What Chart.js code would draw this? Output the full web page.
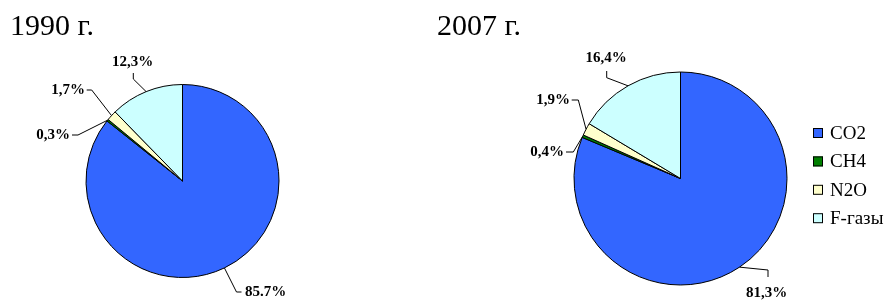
<!DOCTYPE html>
<html>
<head>
<meta charset="utf-8">
<script src="https://cdn.jsdelivr.net/npm/chart.js@4.4.1/dist/chart.umd.min.js"></script>
<style>
html,body{margin:0;padding:0;background:#fff;}
#wrap{position:relative;width:885px;height:302px;overflow:hidden;}
canvas{position:absolute;left:0;top:0;}
</style>
</head>
<body>
<div id="wrap">
<canvas id="c1" width="885" height="302"></canvas>
<canvas id="c2" width="885" height="302"></canvas>
</div>
<script>
const categories = ['CO2', 'CH4', 'N2O', 'F-газы'];
const values1990 = [85.7, 0.3, 1.7, 12.3];
const values2007 = [81.3, 0.4, 1.9, 16.4];
const labels1990 = ['85.7%', '0,3%', '1,7%', '12,3%'];
const labels2007 = ['81,3%', '0,4%', '1,9%', '16,4%'];
const titles = ['1990 г.', '2007 г.'];
const colors = ['#3366FF', '#008000', '#FFFFCC', '#CCFFFF'];

const SERIF = '"Liberation Serif", "Times New Roman", serif';

const decorPlugin = {
  id: 'decor',
  afterDatasetsDraw(chart, args, opts) {
    const ctx = chart.ctx;
    const meta = chart.getDatasetMeta(0);
    ctx.save();
    // leader lines and value labels
    meta.data.forEach((arc, i) => {
      const p = arc.getProps(['x', 'y', 'startAngle', 'endAngle', 'outerRadius'], true);
      const mid = (p.startAngle + p.endAngle) / 2;
      const ex = p.x + Math.cos(mid) * p.outerRadius;
      const ey = p.y + Math.sin(mid) * p.outerRadius;
      const L = opts.layout[i];
      ctx.strokeStyle = '#000';
      ctx.lineWidth = 1;
      ctx.beginPath();
      ctx.moveTo(ex, ey);
      ctx.lineTo(p.x + L.elbow[0], p.y + L.elbow[1]);
      ctx.lineTo(p.x + L.end[0], p.y + L.end[1]);
      ctx.stroke();
      ctx.fillStyle = '#000';
      ctx.font = 'bold 15px ' + SERIF;
      ctx.textAlign = L.align;
      ctx.textBaseline = 'middle';
      ctx.fillText(opts.labels[i], p.x + L.text[0], p.y + L.text[1]);
    });
    // title
    ctx.font = '30px ' + SERIF;
    ctx.textAlign = 'left';
    ctx.textBaseline = 'alphabetic';
    ctx.fillStyle = '#000';
    ctx.fillText(opts.title, opts.titleX, opts.titleY);
    // legend
    if (opts.legend) {
      const ds = chart.data.datasets[0];
      chart.data.labels.forEach((lab, i) => {
        const cy = opts.legend.y0 + i * opts.legend.step;
        ctx.fillStyle = ds.backgroundColor[i];
        ctx.fillRect(opts.legend.x, cy - 5, 10, 10);
        ctx.strokeStyle = '#000';
        ctx.lineWidth = 1;
        ctx.strokeRect(opts.legend.x + 0.5, cy - 4.5, 9, 9);
        ctx.fillStyle = '#000';
        ctx.font = '19px ' + SERIF;
        ctx.textAlign = 'left';
        ctx.textBaseline = 'middle';
        ctx.fillText(lab, opts.legend.x + 17, cy + 1);
      });
    }
    ctx.restore();
  }
};

function makePie(id, values, labels, title, padding, layout, titleX, titleY, legend) {
  return new Chart(document.getElementById(id), {
    type: 'pie',
    data: {
      labels: categories,
      datasets: [{
        data: values,
        backgroundColor: colors,
        borderColor: '#000',
        borderWidth: 1
      }]
    },
    options: {
      responsive: false,
      animation: false,
      events: [],
      layout: { padding: padding },
      plugins: {
        legend: { display: false },
        tooltip: { enabled: false },
        title: { display: false },
        decor: { labels: labels, layout: layout, title: title, titleX: titleX, titleY: titleY, legend: legend }
      }
    },
    plugins: [decorPlugin]
  });
}

makePie('c1', values1990, labels1990, titles[0],
  { left: 85.5, right: 605.5, top: 84, bottom: 24 },
  [
    { elbow: [54, 111], end: [59, 111], text: [62.5, 111], align: 'left' },
    { elbow: [-104.5, -46], end: [-110.5, -46], text: [-112.5, -46], align: 'right' },
    { elbow: [-90.8, -91], end: [-95.8, -91], text: [-97.5, -91], align: 'right' },
    { elbow: [-49.2, -102], end: [-49.2, -108], text: [-50, -119], align: 'center' }
  ], 10, 35, null);

makePie('c2', values2007, labels2007, titles[1],
  { left: 573.5, right: 97.5, top: 71.5, bottom: 16.5 },
  [
    { elbow: [87.5, 91.5], end: [87.5, 98.5], text: [86, 114.5], align: 'center' },
    { elbow: [-107.2, -26.5], end: [-114.5, -26.5], text: [-116.5, -26.5], align: 'right' },
    { elbow: [-102.2, -78.5], end: [-108.8, -78.5], text: [-110.5, -78.5], align: 'right' },
    { elbow: [-73.8, -100.8], end: [-73.8, -107.5], text: [-74.5, -120], align: 'center' }
  ], 437, 35, { x: 813, y0: 133, step: 28.4 });
</script>
</body>
</html>
